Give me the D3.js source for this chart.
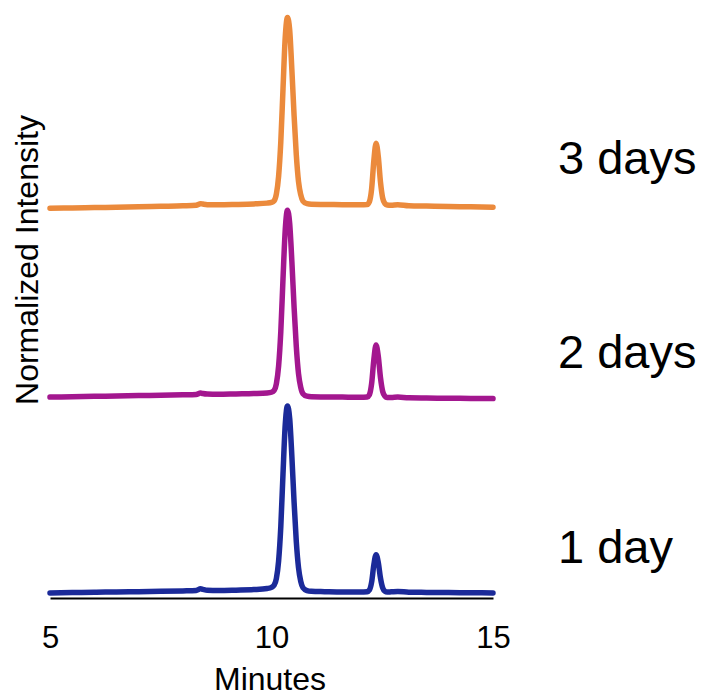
<!DOCTYPE html>
<html>
<head>
<meta charset="utf-8">
<script src="https://cdn.jsdelivr.net/npm/d3@7"></script>
<style>
  html, body { margin: 0; padding: 0; background: #fff; }
  svg { display: block; font-family: "Liberation Sans", Arial, sans-serif; }
</style>
</head>
<body>
<svg id="chart" width="707" height="696"></svg>
<script>
// Retention time (minutes) shared by all traces
const minutes = [
  5.0, 5.5, 6.0, 6.5, 7.0, 7.5, 8.0, 8.3, 8.4, 8.45, 8.55, 8.8, 9.2, 9.6, 9.9,
  10.0, 10.06, 10.11, 10.16, 10.21, 10.26, 10.31, 10.36, 10.41, 10.46, 10.51,
  10.56, 10.61, 10.66, 10.71, 10.8, 10.9, 11.2, 11.6, 12.0,
  12.16, 12.21, 12.26, 12.31, 12.36, 12.41, 12.46, 12.51, 12.56, 12.61,
  12.7, 12.85, 13.1, 13.5, 14.0, 14.5, 15.0
];

// Normalized intensity of each sample (main peak = 1)
const day1 = [
  0.000, 0.002, 0.004, 0.005, 0.007, 0.009, 0.011, 0.013, 0.022, 0.019, 0.014, 0.013, 0.015, 0.018, 0.024,
  0.030, 0.042, 0.078, 0.170, 0.355, 0.640, 0.900, 1.000, 0.935, 0.730, 0.485,
  0.275, 0.135, 0.062, 0.028, 0.013, 0.009, 0.007, 0.005, 0.005,
  0.007, 0.016, 0.058, 0.150, 0.205, 0.163, 0.080, 0.027, 0.009, 0.005,
  0.006, 0.008, 0.004, 0.003, 0.002, 0.001, 0.000
];
const day2 = [
  0.000, 0.002, 0.004, 0.006, 0.008, 0.010, 0.012, 0.014, 0.022, 0.019, 0.016, 0.015, 0.017, 0.019, 0.022,
  0.026, 0.036, 0.072, 0.165, 0.350, 0.635, 0.895, 1.000, 0.930, 0.725, 0.480,
  0.270, 0.125, 0.052, 0.018, 0.005, 0.002, 0.001, 0.000, -0.001,
  0.001, 0.013, 0.072, 0.200, 0.279, 0.219, 0.104, 0.030, 0.005, -0.002,
  -0.002, 0.000, -0.004, -0.005, -0.006, -0.007, -0.008
];
const day3 = [
  0.000, 0.001, 0.003, 0.005, 0.007, 0.010, 0.013, 0.016, 0.024, 0.022, 0.019, 0.018, 0.020, 0.023, 0.027,
  0.031, 0.040, 0.076, 0.170, 0.355, 0.640, 0.915, 1.020, 0.955, 0.740, 0.495,
  0.285, 0.142, 0.072, 0.038, 0.024, 0.021, 0.020, 0.019, 0.018,
  0.020, 0.035, 0.103, 0.254, 0.348, 0.277, 0.140, 0.054, 0.025, 0.017,
  0.016, 0.019, 0.013, 0.011, 0.009, 0.007, 0.005
];

// Vertical stacking offset of each trace, in intensity units
const traceNames = ["1 day", "2 days", "3 days"];
const traceOffsets = [0.027, 1.075, 2.086];
const traceColors = ["#1b2a99", "#a3178f", "#eb8a3c"];
const traceValues = [day1, day2, day3];

const xTicks = [5, 10, 15];

const svg = d3.select("#chart");

const x = d3.scaleLinear().domain([5, 15]).range([50, 493]);
const y = d3.scaleLinear().domain([0, 3.2]).range([598, 0]);

const line = d3.line()
  .x(d => x(d.t))
  .y(d => y(d.v))
  .curve(d3.curveMonotoneX);

// Chromatogram traces, bottom to top
traceValues.forEach((vals, i) => {
  const pts = minutes.map((t, k) => ({ t, v: vals[k] + traceOffsets[i] }));
  svg.append("path")
    .datum(pts)
    .attr("fill", "none")
    .attr("stroke", traceColors[i])
    .attr("stroke-width", 5.5)
    .attr("stroke-linejoin", "round")
    .attr("stroke-linecap", "round")
    .attr("d", line);
});

// Time axis
const xAxis = svg.append("g")
  .attr("transform", `translate(0,${y(0)})`)
  .call(d3.axisBottom(x).tickValues(xTicks).tickSize(0).tickPadding(28).tickFormat(d3.format("d")));
xAxis.select(".domain").attr("stroke", "#000").attr("stroke-width", 2.2);
xAxis.selectAll("text")
  .attr("fill", "#000")
  .style("font-size", "31px")
  .style("font-family", "'Liberation Sans', Arial, sans-serif");

svg.append("text")
  .attr("x", 270)
  .attr("y", 690)
  .attr("text-anchor", "middle")
  .attr("fill", "#000")
  .style("font-size", "32px")
  .text("Minutes");

svg.append("text")
  .attr("transform", "translate(38,260) rotate(-90)")
  .attr("text-anchor", "middle")
  .attr("fill", "#000")
  .style("font-size", "32px")
  .text("Normalized Intensity");

// Trace labels on the right
const labelBaselines = [563, 368, 174];
traceNames.forEach((name, i) => {
  svg.append("text")
    .attr("x", 558)
    .attr("y", labelBaselines[i])
    .attr("fill", "#000")
    .style("font-size", "47px")
    .text(name);
});
</script>
</body>
</html>
